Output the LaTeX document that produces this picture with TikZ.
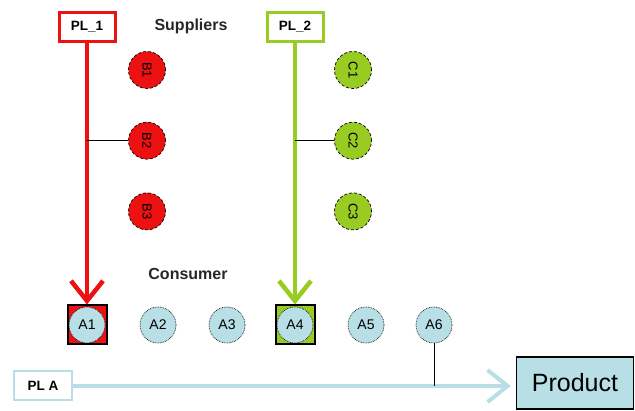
\documentclass[tikz,border=0pt]{standalone}
\usepackage{fontspec}
\setmainfont{Liberation Sans}
\usetikzlibrary{arrows.meta,chains,positioning}
\definecolor{plred}{HTML}{EE1111}
\definecolor{plgreen}{HTML}{99CC22}
\definecolor{plblue}{HTML}{B8DFE6}
\tikzstyle{plbox}=[rectangle, fill=white, line width=3pt, minimum width=56pt, minimum height=29pt,
        text centered, font=\fontsize{13.5}{15}\selectfont\bfseries]
\tikzstyle{title}=[font=\fontsize{16}{18}\selectfont\bfseries, text=black!85]
\tikzstyle{supB}=[circle, fill=plred, draw=black, densely dashed, line width=0.7pt, minimum size=37pt,
        inner sep=0pt, font=\fontsize{13}{14}\selectfont]
\tikzstyle{supC}=[circle, fill=plgreen, draw=black, densely dashed, line width=0.7pt, minimum size=37pt,
        inner sep=0pt, font=\fontsize{13}{14}\selectfont]
\tikzstyle{cons}=[circle, fill=plblue, draw=black, densely dotted, line width=0.7pt, minimum size=36pt,
        inner sep=0pt, font=\fontsize{14}{16}\selectfont]
\tikzstyle{consbox}=[rectangle, draw=black, line width=2pt, minimum size=39pt]
\tikzstyle{plline}=[line width=4.5pt, -{Straight Barb[length=20pt,width=32pt]}]
\tikzstyle{prod}=[rectangle, fill=plblue, draw=black, line width=1.5pt, minimum width=117pt,
        minimum height=52pt, font=\fontsize{25}{28}\selectfont]

\begin{document}
\begin{tikzpicture}[x=1pt, y=-1pt, start chain=1 going below, start chain=2 going below, node distance=33pt]
\useasboundingbox (0,0) rectangle (635,411);
\node [plbox, draw=plred] (pl1) at (87,27) {PL\_1};
\node [plbox, draw=plgreen] (pl2) at (295,27) {PL\_2};
\node [title] (sup) at (191,26) {Suppliers};
\node [supB, on chain=1] (b1) at (147,70) {\rotatebox{-90}{B1}};
\node [supB, on chain=1] (b2) {\rotatebox{-90}{B2}};
\node [supB, on chain=1] (b3) {\rotatebox{-90}{B3}};
\node [supC, on chain=2] (c1) at (353,70) {\rotatebox{-90}{C1}};
\node [supC, on chain=2] (c2) {\rotatebox{-90}{C2}};
\node [supC, on chain=2] (c3) {\rotatebox{-90}{C3}};
\node [title] (con) at (188,274) {Consumer};
\node [consbox, fill=plred] (a1box) at (87,325) {};
\node [cons] (a1) at (a1box) {A1};
\node [cons] (a2) at (158,325) {A2};
\node [cons] (a3) at (227,325) {A3};
\node [consbox, fill=plgreen] (a4box) at (295,325) {};
\node [cons] (a4) at (a4box) {A4};
\node [cons] (a5) at (366,325) {A5};
\node [cons] (a6) at (434,325) {A6};
\node [plbox, draw=plblue, line width=2pt, minimum width=58pt] (plA) at (43,386) {PL A};
\node [prod] (product) at (575,383) {Product};
% supply lines
\draw [plline, draw=plred] (pl1.south) -- (a1box.north);
\draw [plline, draw=plgreen] (pl2.south) -- (a4box.north);
\draw [line width=1pt] (b2.west) -- (b2.west -| pl1.south);
\draw [line width=1pt] (c2.west) -- (c2.west -| pl2.south);
% product line
\coordinate (join) at (a6.south |- plA.east);
\draw [plline, draw=plblue, line width=4pt, shorten >=5pt] (plA.east) -- (plA.east -| product.west);
\draw [line width=1pt] (a6.south) -- (join);
\end{tikzpicture}
\end{document}
